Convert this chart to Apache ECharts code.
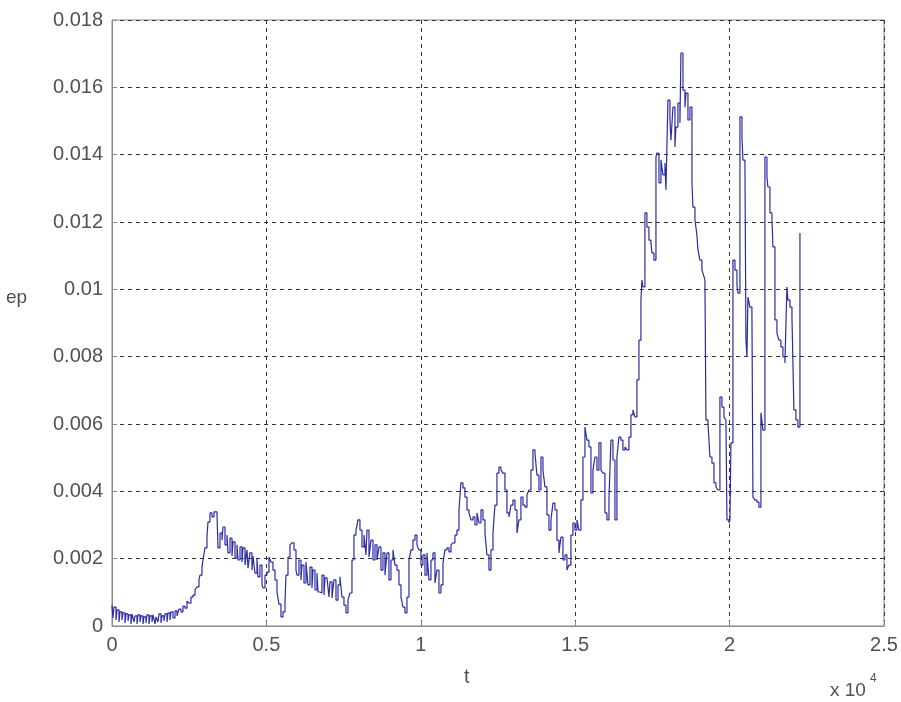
<!DOCTYPE html>
<html>
<head>
<meta charset="utf-8">
<script src="https://cdn.jsdelivr.net/npm/echarts@6/dist/echarts.min.js"></script>
<style>
html,body{margin:0;padding:0;background:#fff;}
#c{width:901px;height:702px;}
</style>
</head>
<body>
<div id="c"></div>
<script>
// time (raw units, axis shown in x10^4)
const tValues = [
0,32,65,130,162,227,259,324,356,421,453,518,550,615,648,712,745,810,842,907,939,1004,1036,1101,1133,1198,1230,1295,1328,1392,1425,1489,1522,1587,1619,1684,1716,1781,1813,1878,1910,1975,2040,2105,2169,2234,2299,2364,2429,2493,2558,2623,2688,2752,2817,2849,2914,2947,3011,3076,3108,3173,3238,3303,3400,3432,3497,3562,3594,3659,3724,3756,3821,3886,3918,3983,4048,4080,4145,4210,4242,4307,4371,4404,4468,4533,4566,4630,4695,4727,4792,4857,4889,4954,5019,5084,5148,5213,5278,5343,5407,5472,5537,5602,5634,5699,5764,5828,5893,5958,5990,6055,6120,6152,6217,6282,6346,6411,6476,6508,6573,6638,6670,6735,6800,6865,6897,6962,7026,7059,7124,7188,7253,7318,7383,7447,7512,7577,7642,7706,7771,7836,7901,7965,8030,8095,8160,8224,8257,8322,8386,8451,8516,8581,8645,8710,8775,8840,8904,8969,9034,9099,9163,9228,9293,9358,9422,9487,9552,9617,9681,9746,9811,9876,9940,10005,10070,10135,10200,10264,10329,10394,10459,10523,10588,10653,10718,10782,10847,10912,10977,11041,11106,11171,11236,11300,11365,11430,11495,11560,11624,11689,11754,11819,11883,11948,12013,12078,12142,12207,12272,12337,12401,12466,12531,12596,12660,12725,12790,12855,12919,12984,13049,13114,13178,13243,13308,13373,13438,13502,13567,13632,13697,13761,13826,13891,13956,14020,14085,14150,14215,14279,14344,14409,14474,14538,14603,14668,14733,14797,14862,14927,14992,15057,15121,15186,15251,15316,15380,15445,15510,15575,15639,15704,15769,15834,15898,15963,16028,16093,16157,16222,16287,16352,16416,16481,16546,16611,16675,16740,16805,16870,16934,16999,17064,17129,17161,17193,17258,17323,17388,17453,17485,17550,17615,17647,17712,17777,17841,17906,17939,18003,18068,18101,18165,18230,18262,18327,18392,18424,18489,18554,18586,18651,18716,18781,18813,18878,18942,18975,19039,19104,19137,19201,19234,19299,19363,19428,19493,19558,19622,19687,19752,19817,19881,19914,19979,20011,20043,20108,20173,20238,20270,20335,20400,20432,20497,20529,20561,20594,20658,20723,20756,20820,20885,20950,21015,21079,21144,21209,21241,21306,21371,21403,21468,21533,21597,21662,21727,21792,21856,21889,21954,22019,22083,22148,22213,22278
];
// ep values
const epValues = [
0.00062,0.00024,0.00056,0.00018,0.00048,0.00012,0.00042,0.00018,0.00039,0.00009,0.00036,0.00015,0.00033,0.00006,0.00036,0.00012,0.0003,0.00006,0.00033,0.00012,0.0003,0.00006,0.00027,0.00009,0.00033,0.00006,0.0003,0.00012,0.00033,0.00006,0.00027,0.00012,0.00036,0.00009,0.0003,0.00015,0.00036,0.00012,0.00039,0.00018,0.00042,0.00024,0.00045,0.0003,0.0005,0.00042,0.00059,0.00053,0.00074,0.00068,0.00086,0.00092,0.00107,0.00116,0.00137,0.00151,0.00175,0.00196,0.00232,0.00264,0.00309,0.00336,0.00324,0.00339,0.00333,0.00232,0.00276,0.00255,0.00294,0.00241,0.0027,0.00217,0.00261,0.00208,0.0025,0.00202,0.00241,0.00196,0.00235,0.0019,0.00232,0.00181,0.00226,0.00172,0.00217,0.00166,0.00208,0.00157,0.00202,0.00146,0.00181,0.00122,0.00113,0.00151,0.0016,0.00205,0.0019,0.00166,0.00137,0.00101,0.00065,0.00027,0.00042,0.00068,0.00151,0.00205,0.00241,0.00247,0.00226,0.00166,0.00151,0.00196,0.00137,0.00181,0.00128,0.0019,0.00122,0.00175,0.00113,0.00166,0.00107,0.00157,0.00101,0.00098,0.00151,0.00092,0.00143,0.00146,0.00086,0.00131,0.00083,0.00137,0.00077,0.00122,0.00146,0.00086,0.00062,0.00039,0.00077,0.00098,0.00196,0.0027,0.00285,0.00315,0.00285,0.00235,0.0027,0.00211,0.00285,0.00205,0.00255,0.00196,0.00241,0.00196,0.00235,0.00166,0.00217,0.00151,0.00217,0.00137,0.00196,0.00226,0.00181,0.00166,0.00122,0.00086,0.00056,0.00039,0.00086,0.00196,0.00226,0.00255,0.0027,0.00241,0.00226,0.00181,0.00211,0.00151,0.00217,0.00137,0.00196,0.00217,0.00128,0.00166,0.00098,0.00122,0.00187,0.00226,0.00232,0.0022,0.00241,0.00247,0.0027,0.00285,0.00345,0.00425,0.0041,0.00383,0.00345,0.00336,0.00315,0.00324,0.003,0.00336,0.00306,0.00345,0.00315,0.00276,0.00211,0.00166,0.00226,0.00276,0.00359,0.00454,0.00472,0.00463,0.00454,0.00404,0.00336,0.00324,0.00359,0.00374,0.00345,0.00276,0.00315,0.00383,0.00359,0.00353,0.00389,0.00404,0.00463,0.00523,0.00514,0.00448,0.00404,0.00502,0.00463,0.00413,0.0033,0.00285,0.00315,0.00365,0.00345,0.00255,0.00217,0.00264,0.00196,0.00211,0.00166,0.00181,0.0027,0.00306,0.00285,0.00315,0.00285,0.00374,0.00502,0.00591,0.00552,0.00532,0.00395,0.00463,0.00502,0.00463,0.00544,0.00463,0.00454,0.00336,0.00315,0.00374,0.00552,0.00493,0.00315,0.00502,0.00561,0.00552,0.00523,0.00532,0.00523,0.00561,0.00627,0.00642,0.00621,0.00731,0.00849,0.00968,0.01028,0.01007,0.01227,0.01185,0.01146,0.01138,0.01108,0.01087,0.01393,0.01405,0.01316,0.01384,0.0134,0.01375,0.01295,0.01562,0.01503,0.01443,0.01541,0.01423,0.01482,0.01553,0.01494,0.01702,0.01592,0.01541,0.01583,0.01503,0.01541,0.01316,0.01244,0.01206,0.01161,0.01117,0.01087,0.01057,0.01048,0.01028,0.00612,0.00603,0.00502,0.00484,0.00425,0.00413,0.00404,0.0068,0.0065,0.00621,0.00612,0.00315,0.00306,0.00315,0.00544,0.01087,0.01057,0.01013,0.00989,0.01512,0.01452,0.01384,0.01375,0.00849,0.00799,0.00977,0.00947,0.0093,0.00383,0.00374,0.00368,0.00353,0.00633,0.00582,0.01393,0.01334,0.01304,0.01227,0.01215,0.01126,0.00909,0.0087,0.00849,0.00829,0.00799,0.00781,0.01007,0.00968,0.00947,0.00918,0.00642,0.00612,0.00591,0.01167
];
const xTicks = ['0','0.5','1','1.5','2','2.5'];

const data = tValues.map((t, i) => [t, epValues[i]]);

const chart = echarts.init(document.getElementById('c'));
const FONT = 'Liberation Sans, Arial, sans-serif';
const TXT = '#505050';
const gridLine = {show: true, lineStyle: {color: '#333333', type: [4, 4], width: 1}};
chart.setOption({
  backgroundColor: '#ffffff',
  animation: false,
  grid: {left: 112, top: 20, right: 17, bottom: 76, show: true, borderColor: '#8a8a8a', borderWidth: 1, backgroundColor: 'transparent'},
  xAxis: {
    type: 'value', min: 0, max: 25000, interval: 5000,
    axisLine: {show: true, lineStyle: {color: '#8a8a8a'}},
    axisTick: {show: true, inside: true, length: 5, lineStyle: {color: '#8a8a8a'}},
    axisLabel: {color: TXT, fontFamily: FONT, fontSize: 20, margin: 9,
      formatter: v => xTicks[Math.round(v / 5000)]},
    splitLine: gridLine
  },
  yAxis: {
    type: 'value', min: 0, max: 0.018, interval: 0.002,
    axisLine: {show: true, lineStyle: {color: '#8a8a8a'}},
    axisTick: {show: true, inside: true, length: 5, lineStyle: {color: '#8a8a8a'}},
    axisLabel: {color: TXT, fontFamily: FONT, fontSize: 20, margin: 9,
      formatter: v => String(parseFloat(v.toFixed(3)))},
    splitLine: gridLine
  },
  graphic: [
    {type: 'text', left: 464, top: 667, style: {text: 't', fill: TXT, font: '20px ' + FONT}},
    {type: 'text', left: 6, top: 288, style: {text: 'ep', fill: TXT, font: '19px ' + FONT}},
    {type: 'text', left: 830, top: 681, style: {text: 'x 10', fill: TXT, font: '19px ' + FONT}},
    {type: 'text', left: 870, top: 673, style: {text: '4', fill: TXT, font: '12px ' + FONT}}
  ],
  series: [{
    type: 'line', data: data, step: 'end', showSymbol: false, symbol: 'none',
    lineStyle: {color: '#2b2ba4', width: 1.2}, z: 5
  }]
});
</script>
</body>
</html>
